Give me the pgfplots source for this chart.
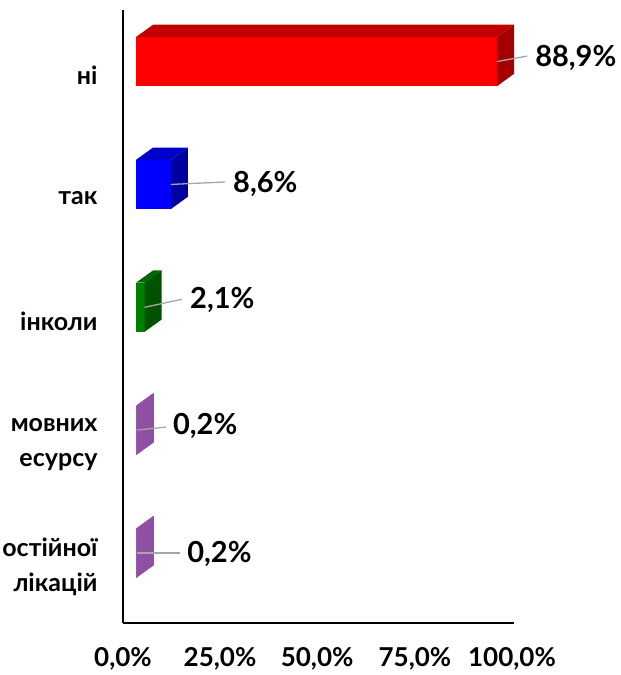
\documentclass[border=0pt]{standalone}
\usepackage{fontspec}
\setmainfont{Lato}
\usepackage{pgfplots}
\pgfplotsset{compat=1.18}
\definecolor{redF}{HTML}{FF0000}
\definecolor{redT}{HTML}{C00000}
\definecolor{redS}{HTML}{A50000}
\definecolor{blueF}{HTML}{0000FF}
\definecolor{blueT}{HTML}{0000C8}
\definecolor{blueS}{HTML}{0000A0}
\definecolor{greenF}{HTML}{008000}
\definecolor{greenT}{HTML}{006600}
\definecolor{greenS}{HTML}{005200}
\definecolor{purF}{HTML}{9A5AAE}
\definecolor{purT}{HTML}{7D4290}
\definecolor{purS}{HTML}{8F4FA2}
\definecolor{leader}{HTML}{A6A6A6}
\begin{document}
\begin{tikzpicture}
\useasboundingbox (0pt,0pt) rectangle (621pt,675pt);
\begin{axis}[
  at={(123pt,52pt)}, anchor=south west,
  scale only axis, width=391pt, height=613pt,
  xmin=-3.2, xmax=93.1, ymin=-0.57, ymax=4.42,
  axis x line*=bottom, axis y line*=left,
  axis line style={-, line width=1.5pt, black},
  xtick={-3.2,20.7,44.6,68.7,92.6},
  xticklabels={{0,0\%},{25,0\%},{50,0\%},{75,0\%},{100,0\%}},
  ytick={0,1,2,3,4},
  yticklabels={{остійної\\лікацій},{мовних\\есурсу},інколи,так,ні},
  major tick length=0pt,
  xticklabel style={font=\fontsize{26}{30}\selectfont\bfseries, yshift=-21pt},
  yticklabel style={font=\fontsize{25}{35}\selectfont\bfseries, align=right, yshift=-14pt, xshift=-22pt},
  clip=false,
]
% ні 88.9
\addplot[fill=redF, draw=none] coordinates {(0,3.8) (88.9,3.8) (88.9,4.2) (0,4.2)};
\addplot[fill=redT, draw=none] coordinates {(0,4.2) (88.9,4.2) (93.1,4.3) (4.2,4.3)};
\addplot[fill=redS, draw=none] coordinates {(88.9,3.8) (93.1,3.9) (93.1,4.3) (88.9,4.2)};
% так 8.6
\addplot[fill=blueF, draw=none] coordinates {(0,2.8) (8.6,2.8) (8.6,3.2) (0,3.2)};
\addplot[fill=blueT, draw=none] coordinates {(0,3.2) (8.6,3.2) (12.8,3.3) (4.2,3.3)};
\addplot[fill=blueS, draw=none] coordinates {(8.6,2.8) (12.8,2.9) (12.8,3.3) (8.6,3.2)};
% інколи 2.1
\addplot[fill=greenF, draw=none] coordinates {(0,1.8) (2.1,1.8) (2.1,2.2) (0,2.2)};
\addplot[fill=greenT, draw=none] coordinates {(0,2.2) (2.1,2.2) (6.3,2.3) (4.2,2.3)};
\addplot[fill=greenS, draw=none] coordinates {(2.1,1.8) (6.3,1.9) (6.3,2.3) (2.1,2.2)};
% 0.2
\addplot[fill=purF, draw=none] coordinates {(0,0.8) (0.2,0.8) (0.2,1.2) (0,1.2)};
\addplot[fill=purT, draw=none] coordinates {(0,1.2) (0.2,1.2) (4.4,1.3) (4.2,1.3)};
\addplot[fill=purS, draw=none] coordinates {(0.2,0.8) (4.4,0.9) (4.4,1.3) (0.2,1.2)};
% 0.2
\addplot[fill=purF, draw=none] coordinates {(0,-0.2) (0.2,-0.2) (0.2,0.2) (0,0.2)};
\addplot[fill=purT, draw=none] coordinates {(0,0.2) (0.2,0.2) (4.4,0.3) (4.2,0.3)};
\addplot[fill=purS, draw=none] coordinates {(0.2,-0.2) (4.4,-0.1) (4.4,0.3) (0.2,0.2)};
% leaders and labels
\begin{scope}[every node/.style={anchor=west, inner sep=0pt, font=\fontsize{29}{32}\selectfont\bfseries}]
\draw[leader, line width=1.3pt] (axis cs:88.9,4.0) -- (axis cs:96.3,4.045);
\node at (axis cs:98.3,4.03) {88,9\%};
\draw[leader, line width=1.3pt] (axis cs:8.6,3.0) -- (axis cs:21.9,3.02);
\node at (axis cs:23.9,3.0) {8,6\%};
\draw[leader, line width=1.3pt] (axis cs:2.1,2.0) -- (axis cs:11.3,2.065);
\node at (axis cs:13.3,2.06) {2,1\%};
\draw[leader, line width=1.3pt] (axis cs:0.2,1.0) -- (axis cs:7.4,1.025);
\node at (axis cs:9.1,1.035) {0,2\%};
\draw[leader, line width=1.3pt] (axis cs:0.2,0.0) -- (axis cs:10.8,0.0);
\node at (axis cs:12.6,-0.01) {0,2\%};
\end{scope}
\end{axis}
\end{tikzpicture}
\end{document}
